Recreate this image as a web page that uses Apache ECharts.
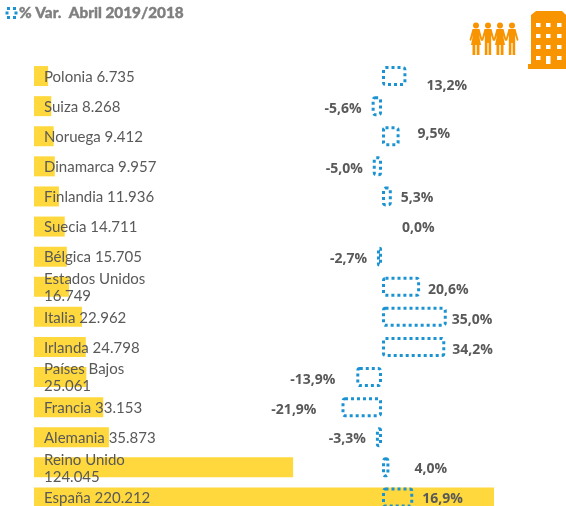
<!DOCTYPE html>
<html>
<head>
<meta charset="utf-8">
<style>
html, body { margin: 0; padding: 0; background: #fff; overflow: hidden; }
#wrap { width: 566px; height: 506px; overflow: hidden; }
/* the last row runs past the bottom edge in the source, so the canvas is taller than the window */
#chart { width: 566px; height: 520px; }
</style>
<script src="https://cdn.jsdelivr.net/npm/echarts@6/dist/echarts.min.js"></script>
</head>
<body>
<div id="wrap"><div id="chart"></div></div>
<script>
const countries = ['Polonia', 'Suiza', 'Noruega', 'Dinamarca', 'Finlandia', 'Suecia', 'Bélgica', 'Estados Unidos', 'Italia', 'Irlanda', 'Países Bajos', 'Francia', 'Alemania', 'Reino Unido', 'España'];
const visitors = [6735, 8268, 9412, 9957, 11936, 14711, 15705, 16749, 22962, 24798, 25061, 33153, 35873, 124045, 220212];
const variation = [13.2, -5.6, 9.5, -5.0, 5.3, 0.0, -2.7, 20.6, 35.0, 34.2, -13.9, -21.9, -3.3, 4.0, 16.9];

// the source labels were moved by hand, so each one keeps its own nudge
const labelShiftX = [15, 5, 13, 5, 4, 15, 5, 3, 0, 2, 16, 20, 5, 20, 4];
const labelShiftY = [10, 3, -2, 3, 2, 1, 2, 3, 3, 3, 3, 3, 2, 2, 2];
const wrapped = ['Estados Unidos', 'Países Bajos', 'Reino Unido'];

const BLUE = '#1b93d3';
const ORANGE = '#f79400';
const TEXT = '#595959';

function fmtThousands(v) {
	return String(v).replace(/\B(?=(\d{3})+$)/g, '.');
}

function fmtPct(v) {
	return v.toFixed(1).replace('.', ',') + '%';
}

function person(x, skirt) {
	return [{
		type: 'circle',
		shape: { cx: x, cy: 25.5, r: 3 },
		style: { fill: ORANGE }
	}, {
		type: 'polygon',
		shape: {
			points: skirt
				? [[x - 3.5, 29], [x + 3.5, 29], [x + 6.5, 40], [x + 5, 41], [x + 3, 35], [x + 5, 45], [x + 3.5, 45], [x + 3.5, 55], [x + 0.7, 55], [x + 0.7, 45], [x - 0.7, 45], [x - 0.7, 55], [x - 3.5, 55], [x - 3.5, 45], [x - 5, 45], [x - 3, 35], [x - 5, 41], [x - 6.5, 40]]
				: [[x - 3.5, 29], [x + 3.5, 29], [x + 6.5, 40], [x + 5, 41], [x + 3.2, 35], [x + 3.2, 55], [x + 0.6, 55], [x + 0.6, 43], [x - 0.6, 43], [x - 0.6, 55], [x - 3.2, 55], [x - 3.2, 35], [x - 5, 41], [x - 6.5, 40]]
		},
		style: { fill: ORANGE }
	}];
}

function building() {
	const els = [{
		type: 'polygon',
		shape: { points: [[536, 11], [562, 11], [566, 15], [566, 69], [528, 69], [528, 64], [531, 64], [531, 15]] },
		style: { fill: ORANGE }
	}];
	[23, 34, 45, 56].forEach(function (y, row) {
		[536, 546, 557].forEach(function (x, i) {
			els.push({
				type: 'rect',
				shape: { x: x, y: y, width: 4.5, height: (row === 3 && i === 1) ? 8 : 4 },
				style: { fill: '#fff' }
			});
		});
	});
	return els;
}

const chart = echarts.init(document.getElementById('chart'));

chart.setOption({
	animation: false,
	title: {
		text: '% Var.  Abril 2019/2018',
		left: 19,
		top: 6,
		padding: 0,
		textStyle: {
			fontFamily: 'Lato',
			fontSize: 15.3,
			fontWeight: 900,
			color: '#7f7f7f',
			textBorderColor: '#7f7f7f',
			textBorderWidth: 0.4
		}
	},
	grid: [
		{ left: 34, width: 460, top: 61, height: 451.5 },
		{ left: 326.5, width: 129.5, top: 61, height: 451.5 }
	],
	xAxis: [
		{ gridIndex: 0, type: 'value', min: 0, max: 220212, show: false },
		{ gridIndex: 1, type: 'value', min: -30, max: 40, show: false }
	],
	yAxis: [
		{ gridIndex: 0, type: 'category', inverse: true, data: countries, show: false },
		{ gridIndex: 1, type: 'category', inverse: true, data: countries, show: false }
	],
	series: [{
		type: 'bar',
		xAxisIndex: 0,
		yAxisIndex: 0,
		data: visitors,
		barWidth: 20,
		itemStyle: { color: '#ffd83d' },
		label: {
			show: true,
			position: [10, '50%'],
			offset: [0, 1],
			align: 'left',
			verticalAlign: 'middle',
			fontFamily: 'Lato',
			fontSize: 15,
			lineHeight: 17,
			color: TEXT,
			formatter: function (p) {
				const sep = wrapped.indexOf(p.name) >= 0 ? '\n' : ' ';
				return p.name + sep + fmtThousands(p.value);
			}
		}
	}, {
		type: 'bar',
		xAxisIndex: 1,
		yAxisIndex: 1,
		barWidth: 20,
		data: variation.map(function (v, i) {
			return {
				value: v,
				itemStyle: v === 0 ? { borderWidth: 0 } : undefined,
				label: {
					position: v < 0 ? 'left' : 'right',
					offset: [v < 0 ? -labelShiftX[i] : labelShiftX[i], labelShiftY[i]]
				}
			};
		}),
		itemStyle: {
			color: 'transparent',
			borderColor: BLUE,
			borderWidth: 3,
			borderType: [3, 3],
			borderRadius: 2
		},
		label: {
			show: true,
			fontFamily: 'Open Sans',
			fontSize: 14,
			fontWeight: 'bold',
			color: TEXT,
			formatter: function (p) {
				return fmtPct(p.value);
			}
		}
	}],
	graphic: [{
		type: 'rect',
		shape: { x: 7, y: 8.5, width: 9, height: 9 },
		style: { fill: 'none', stroke: BLUE, lineWidth: 3, lineDash: [3, 3] }
	}].concat(person(476, true), person(488, false), person(500, true), person(512, false), building())
});
</script>
</body>
</html>
